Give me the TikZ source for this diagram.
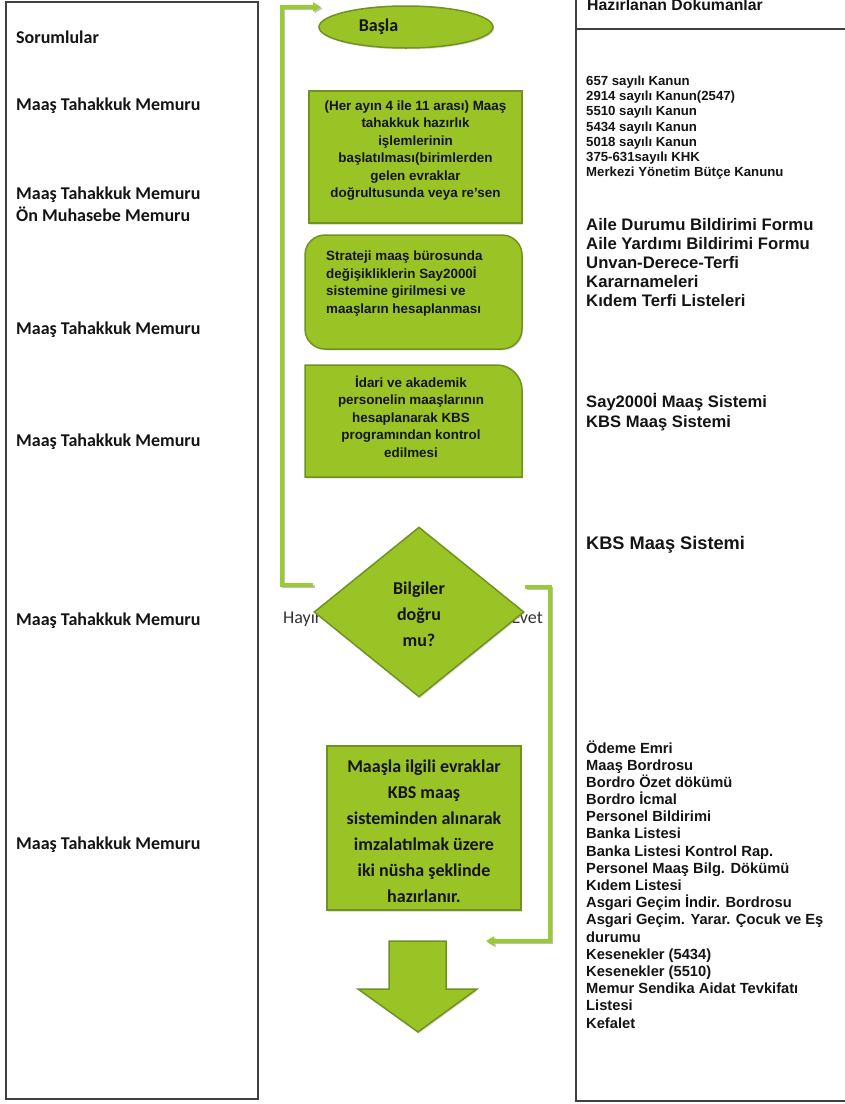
\documentclass[tikz,border=0pt]{standalone}
\usepackage{fontspec}
\setmainfont{Liberation Sans}
\newfontfamily\calib{Carlito}
\usetikzlibrary{shapes.geometric,shadows,arrows.meta}
\definecolor{gfill}{RGB}{154,196,37}
\definecolor{gline}{RGB}{112,146,32}
\definecolor{conn}{RGB}{153,204,51}
\definecolor{framec}{RGB}{64,64,64}
\definecolor{txt}{RGB}{20,20,20}
\begin{document}
\begin{tikzpicture}[x=1pt,y=-1pt,
  gshape/.style={fill=gfill,draw=gline,line width=1.5pt,drop shadow={opacity=0.25,shadow xshift=1.2pt,shadow yshift=-1.5pt}},
  conline/.style={draw=conn,line width=3.2pt,preaction={draw=black!25,line width=3.2pt,transform canvas={xshift=1.5pt,yshift=-1.5pt}}},
  tipend/.style={-{Triangle[length=8pt,width=9pt]}},
  framel/.style={draw=framec,line width=1.4pt},
  lcol/.style={anchor=base west,inner sep=0pt,text=txt,font=\calib\bfseries\fontsize{18}{22}\selectfont},
  rtxt/.style={anchor=base west,inner sep=0pt,text=txt,font=\bfseries\fontsize{#1}{#1}\selectfont},
  boxtxt/.style={inner sep=0pt,text=txt,font=\bfseries\fontsize{13.4}{17.5}\selectfont},
  caltxt/.style={inner sep=0pt,text=txt,font=\calib\bfseries\fontsize{18}{26}\selectfont},
  lbl/.style={inner sep=0pt,anchor=base west,text=black!80,font=\calib\fontsize{18}{22}\selectfont}
]
\useasboundingbox (0,0) rectangle (845,1104);
% column frames
\draw[framel] (6,2) rectangle (258,1099);
\draw[framel] (576,-5) -- (576,1101) -- (850,1101);
\draw[framel] (576,29) -- (850,29);

% left column
\node[lcol] (s0) at (16,43) {Sorumlular};
\node[lcol] (s1) at (16,110) {Maaş Tahakkuk Memuru};
\node[lcol] (s2) at (16,199) {Maaş Tahakkuk Memuru};
\node[lcol] (s3) at (16,221) {Ön Muhasebe Memuru};
\node[lcol] (s4) at (16,334) {Maaş Tahakkuk Memuru};
\node[lcol] (s5) at (16,446) {Maaş Tahakkuk Memuru};
\node[lcol] (s6) at (16,625) {Maaş Tahakkuk Memuru};
\node[lcol] (s7) at (16,849) {Maaş Tahakkuk Memuru};

% right column
\node[rtxt=15.8] (h0) at (587,10) {Hazırlanan Dokumanlar};
\foreach \t [count=\i from 0] in {657 sayılı Kanun,2914 sayılı Kanun(2547),5510 sayılı Kanun,5434 sayılı Kanun,5018 sayılı Kanun,375-631sayılı KHK,Merkezi Yönetim Bütçe Kanunu}
  \node[rtxt=13.2] (ra\i) at (586,85.5+15.2*\i) {\t};
\foreach \t [count=\i from 0] in {Aile Durumu Bildirimi Formu,Aile Yardımı Bildirimi Formu,Unvan-Derece-Terfi,Kararnameleri,Kıdem Terfi Listeleri}
  \node[rtxt=16.7] (rb\i) at (586,230+19.2*\i) {\t};
\node[rtxt=16.6] (rc0) at (586,407) {Say2000İ Maaş Sistemi};
\node[rtxt=16.6] (rc1) at (586,427) {KBS Maaş Sistemi};
\node[rtxt=18.2] (rd0) at (586,549) {KBS Maaş Sistemi};
\foreach \t [count=\i from 0] in {Ödeme Emri,Maaş Bordrosu,Bordro Özet dökümü,Bordro İcmal,Personel Bildirimi,Banka Listesi,Banka Listesi Kontrol Rap.,Personel Maaş Bilg. Dökümü,Kıdem Listesi,Asgari Geçim İndir. Bordrosu,Asgari Geçim. Yarar. Çocuk ve Eş,durumu,Kesenekler (5434),Kesenekler (5510),Memur Sendika Aidat Tevkifatı,Listesi,Kefalet}
  \node[rtxt=14.7] (re\i) at (586,753+17.19*\i) {\t};

% labels behind diamond
\node[lbl] (hayir) at (283,623) {Hayır};
\node[lbl,anchor=base east] (evet) at (543,623) {Evet};

% connectors
\coordinate (noStart) at (313,585);
\coordinate (noEnd) at (321,7);
\coordinate (yesStart) at (525,587);
\coordinate (yesEnd) at (486,941);
\draw[conline,tipend] (noStart) -- ++(-31,0) |- (noEnd);
\draw[conline,tipend] (yesStart) -- ++(25,0) |- (yesEnd);

% shapes
\node[ellipse,gshape,minimum width=174,minimum height=42,inner sep=0pt] (start) at (406,27) {};
\node[caltxt] (startT) at (378.5,27) {Başla};

\node[rectangle,gshape,minimum width=213,minimum height=132,inner sep=0pt] (b1) at (415.5,157) {};
\node[boxtxt,align=center] (b1t) at (415.5,150.5) {(Her ayın 4 ile 11 arası) Maaş\\tahakkuk hazırlık\\işlemlerinin\\başlatılması(birimlerden\\gelen evraklar\\doğrultusunda veya re’sen};

\node[rectangle,rounded corners=20pt,gshape,minimum width=217,minimum height=114,inner sep=0pt] (b2) at (413.5,292) {};
\node[boxtxt,align=left,anchor=west] (b2t) at (326,283.3) {Strateji maaş bürosunda\\değişikliklerin Say2000İ\\sistemine girilmesi ve\\maaşların hesaplanması};

\draw[gshape] (305,477) -- (305,365) -- (497,365) .. controls (510.8,365) and (522,376.2) .. (522,390) -- (522,477) -- cycle;
\node[boxtxt,align=center] (b3t) at (411,416.7) {İdari ve akademik\\personelin maaşlarının\\hesaplanarak KBS\\programından kontrol\\edilmesi};

\node[diamond,gshape,minimum width=210,minimum height=170,inner sep=0pt] (dec) at (419,612) {};
\node[caltxt,align=center] (dect) at (419,614) {Bilgiler\\doğru\\mu?};

\node[rectangle,gshape,minimum width=194,minimum height=164,inner sep=0pt] (b4) at (424,828) {};
\node[caltxt,align=center] (b4t) at (424,831.5) {Maaşla ilgili evraklar\\KBS maaş\\sisteminden alınarak\\imzalatılmak üzere\\iki nüsha şeklinde\\hazırlanır.};

\draw[gshape] (389,941) -- (446,941) -- (446,989) -- (477,989) -- (418,1032) -- (358,989) -- (389,989) -- cycle;
\end{tikzpicture}
\end{document}
